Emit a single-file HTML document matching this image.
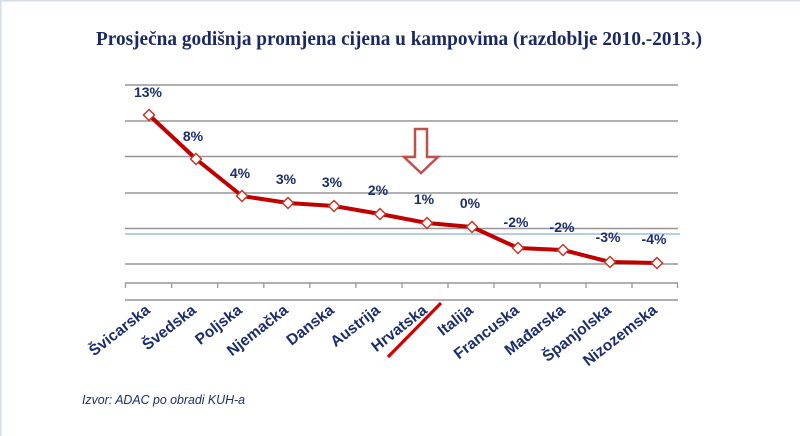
<!DOCTYPE html>
<html>
<head>
<meta charset="utf-8">
<style>
html,body{margin:0;padding:0;background:#fff;}
svg{display:block;}
</style>
</head>
<body>
<svg width="800" height="436" viewBox="0 0 800 436" xmlns="http://www.w3.org/2000/svg">
<rect x="0" y="0" width="800" height="436" fill="#ffffff"/>
<rect x="0" y="0" width="800" height="1.5" fill="#d6dbe7"/>
<rect x="0" y="0" width="1.5" height="436" fill="#d6dbe7"/>

<text x="96" y="45" font-family="Liberation Serif, serif" font-weight="bold" font-size="20" fill="#1a2864" textLength="606" lengthAdjust="spacingAndGlyphs">Prosječna godišnja promjena cijena u kampovima (razdoblje 2010.-2013.)</text>

<g stroke="#969696" stroke-width="1.5">
<line x1="125" y1="85" x2="678" y2="85"/>
<line x1="125" y1="121" x2="678" y2="121"/>
<line x1="125" y1="156.5" x2="678" y2="156.5"/>
<line x1="125" y1="193" x2="678" y2="193"/>
<line x1="125" y1="228.5" x2="678" y2="228.5"/>
<line x1="125" y1="264" x2="678" y2="264"/>
<line x1="125" y1="283" x2="678" y2="283"/>
<line x1="125" y1="300" x2="678" y2="300"/>
</g>
<line x1="125" y1="234" x2="680" y2="234" stroke="#6b9bd0" stroke-width="1"/>
<g stroke="#969696" stroke-width="1.3">
<line x1="125.5" y1="283" x2="125.5" y2="288"/>
<line x1="171.6" y1="283" x2="171.6" y2="288"/>
<line x1="217.7" y1="283" x2="217.7" y2="288"/>
<line x1="263.8" y1="283" x2="263.8" y2="288"/>
<line x1="309.8" y1="283" x2="309.8" y2="288"/>
<line x1="355.9" y1="283" x2="355.9" y2="288"/>
<line x1="402" y1="283" x2="402" y2="288"/>
<line x1="448" y1="283" x2="448" y2="288"/>
<line x1="494" y1="283" x2="494" y2="288"/>
<line x1="540" y1="283" x2="540" y2="288"/>
<line x1="586" y1="283" x2="586" y2="288"/>
<line x1="632" y1="283" x2="632" y2="288"/>
<line x1="677.5" y1="283" x2="677.5" y2="288"/>
</g>

<polyline fill="none" stroke="#c00000" stroke-width="4" stroke-linejoin="round" stroke-linecap="round"
 points="149,115 196,159 242,196 288,203 334,206 380,214 427,223 472,227 518,248 563,250 610,262 657,263"/>
<g fill="#ffffff" stroke="#c0392b" stroke-width="1.5">
<polygon points="149,109.5 154.5,115 149,120.5 143.5,115"/>
<polygon points="196,153.5 201.5,159 196,164.5 190.5,159"/>
<polygon points="242,190.5 247.5,196 242,201.5 236.5,196"/>
<polygon points="288,197.5 293.5,203 288,208.5 282.5,203"/>
<polygon points="334,200.5 339.5,206 334,211.5 328.5,206"/>
<polygon points="380,208.5 385.5,214 380,219.5 374.5,214"/>
<polygon points="427,217.5 432.5,223 427,228.5 421.5,223"/>
<polygon points="472,221.5 477.5,227 472,232.5 466.5,227"/>
<polygon points="518,242.5 523.5,248 518,253.5 512.5,248"/>
<polygon points="563,244.5 568.5,250 563,255.5 557.5,250"/>
<polygon points="610,256.5 615.5,262 610,267.5 604.5,262"/>
<polygon points="657,257.5 662.5,263 657,268.5 651.5,263"/>
</g>

<g font-family="Liberation Sans, Arial, sans-serif" font-weight="bold" font-size="14" fill="#1c2d6b" text-anchor="middle">
<text x="148" y="97">13%</text>
<text x="193" y="141">8%</text>
<text x="240" y="178">4%</text>
<text x="286" y="184">3%</text>
<text x="332" y="187">3%</text>
<text x="378" y="195">2%</text>
<text x="424" y="204">1%</text>
<text x="470" y="208">0%</text>
<text x="516" y="227">-2%</text>
<text x="562" y="232">-2%</text>
<text x="608" y="242">-3%</text>
<text x="654" y="244">-4%</text>
</g>

<polygon points="415,129 427,129 427,157 438,157 421,173 404,157 415,157" fill="#ffffff" stroke="#c0504d" stroke-width="2.5" stroke-linejoin="miter"/>

<g font-family="Liberation Sans, Arial, sans-serif" font-weight="bold" font-size="15.5" fill="#1c2d6b" text-anchor="end">
<text transform="translate(151,312) rotate(-38)">Švicarska</text>
<text transform="translate(197,312) rotate(-38)">Švedska</text>
<text transform="translate(243,312) rotate(-38)">Poljska</text>
<text transform="translate(289,312) rotate(-38)">Njemačka</text>
<text transform="translate(335,312) rotate(-38)">Danska</text>
<text transform="translate(381,312) rotate(-38)">Austrija</text>
<text transform="translate(428,312) rotate(-38)">Hrvatska</text>
<text transform="translate(474,312) rotate(-38)">Italija</text>
<text transform="translate(520,312) rotate(-38)">Francuska</text>
<text transform="translate(566,312) rotate(-38)">Mađarska</text>
<text transform="translate(612,312) rotate(-38)">Španjolska</text>
<text transform="translate(658,312) rotate(-38)">Nizozemska</text>
</g>

<line x1="388" y1="357" x2="441" y2="303" stroke="#d00000" stroke-width="3.2" stroke-linecap="butt"/>

<text x="82" y="404" font-family="Liberation Sans, Arial, sans-serif" font-style="italic" font-size="12.5" fill="#1c2d6b" textLength="163" lengthAdjust="spacingAndGlyphs">Izvor: ADAC po obradi KUH-a</text>
</svg>
</body>
</html>
